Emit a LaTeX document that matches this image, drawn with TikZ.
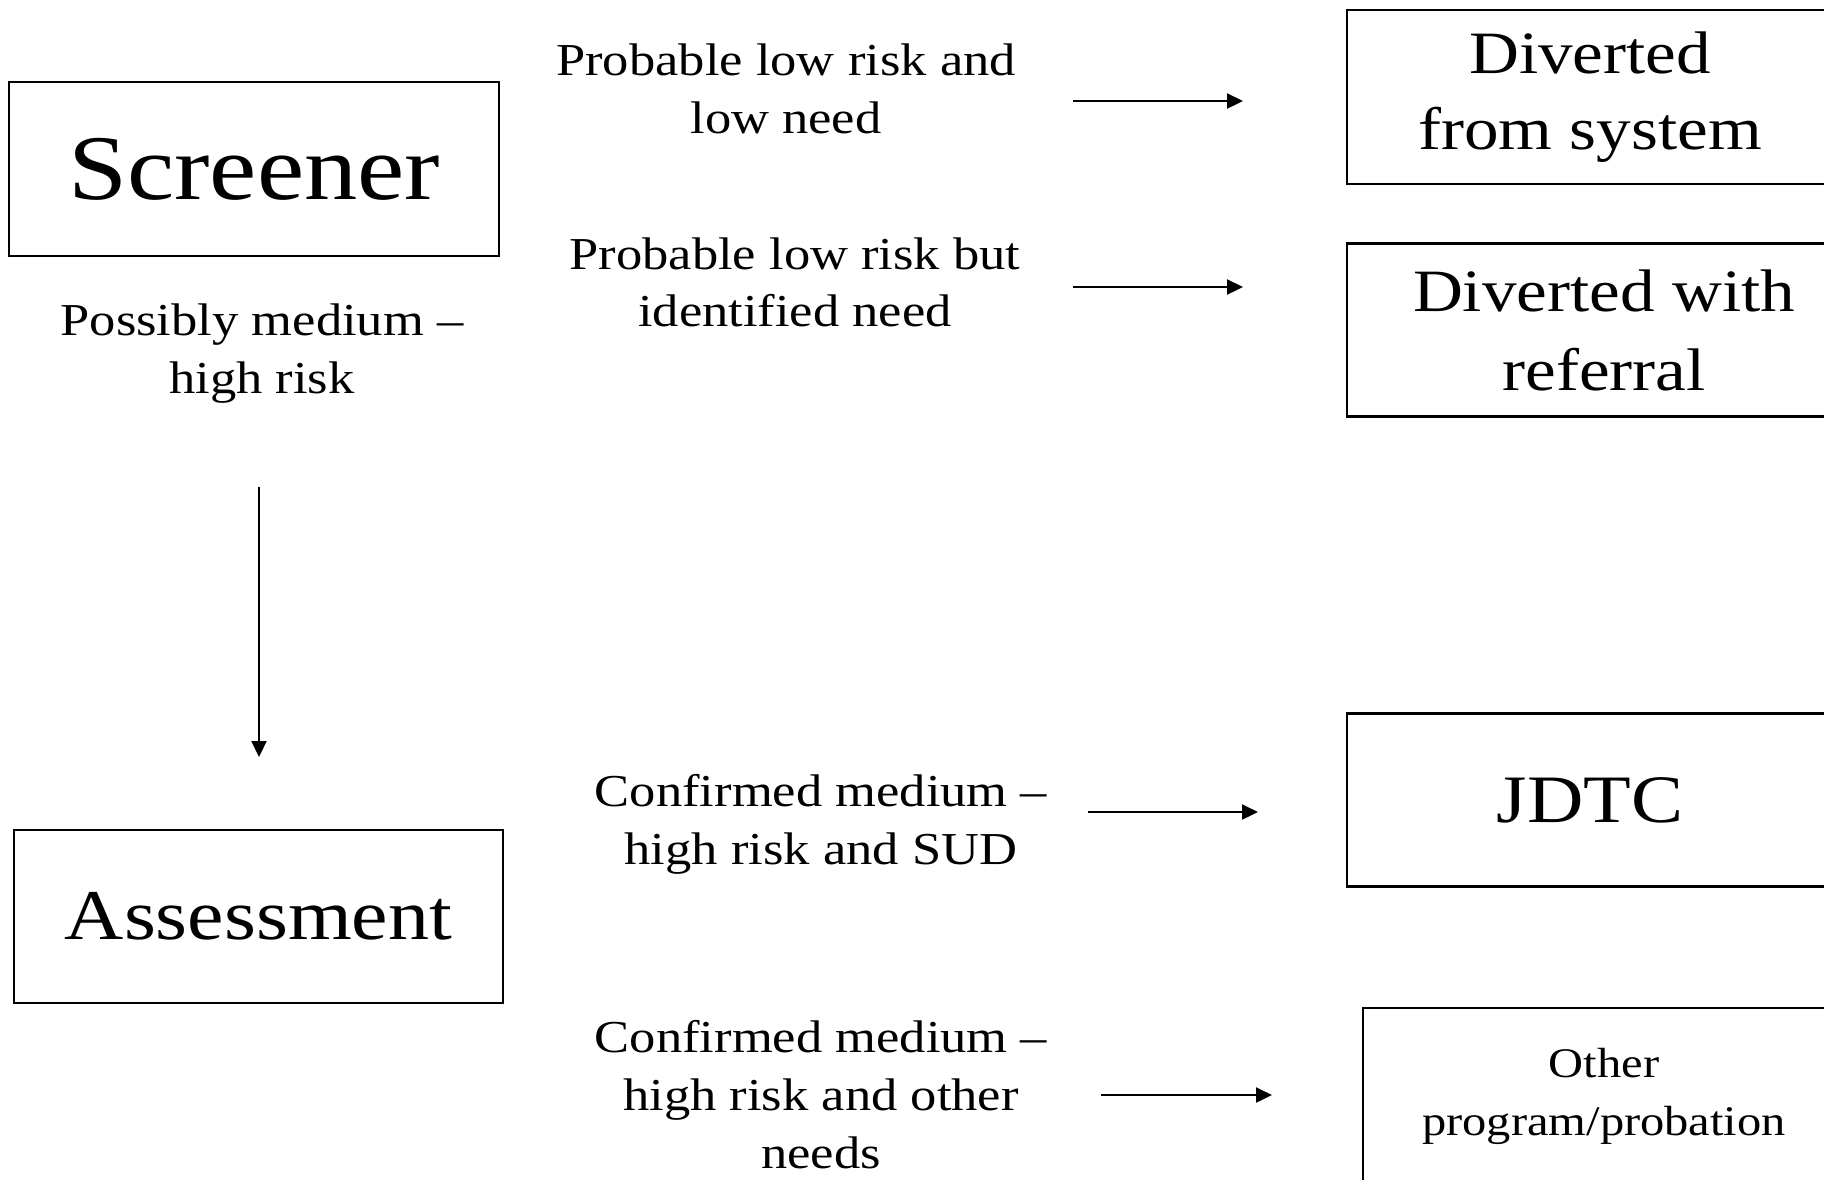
\documentclass[tikz,border=0pt]{standalone}
\usepackage{fontspec}
\setmainfont[FakeStretch=1.15]{Liberation Serif}
\usetikzlibrary{arrows.meta}

\tikzset{
  box/.style={draw, rectangle, align=center, inner sep=0pt},
  lbl/.style={align=center, font=\fontsize{13}{16.4}\selectfont},
}

\begin{document}
\begin{tikzpicture}[x=0.1mm, y=-0.1mm, semithick, ->, >={Triangle[length=1.6mm,width=1.5mm]}]
  \useasboundingbox (0,0) rectangle (1824,1179);

  % left column
  \node [box, minimum width=49mm, minimum height=17.4mm, font=\fontsize{26.3}{30}\selectfont] (screener) at (254,169) {Screener};
  \node [lbl] (possmed) at (262,353.5) {Possibly medium --\\high risk};
  \node [box, minimum width=48.9mm, minimum height=17.3mm, font=\fontsize{20.3}{24}\selectfont] (assess) at (258.5,916.5) {Assessment};

  % middle labels
  \node [lbl] (lowlow) at (786,89) {Probable low risk and\\low need};
  \node [lbl] (lowneed) at (795,282.5) {Probable low risk but\\identified need};
  \node [lbl] (sud) at (821,824.5) {Confirmed medium --\\high risk and SUD};
  \node [lbl] (othneed) at (821,1094.5) {Confirmed medium --\\high risk and other\\needs};

  % right column
  \node [box, minimum width=48.6mm, minimum height=17.4mm, font=\fontsize{17.1}{21.8}\selectfont] (divsys) at (1590,97) {Diverted\\from system};
  \node [box, minimum width=51.4mm, minimum height=17.3mm, font=\fontsize{17.1}{22.5}\selectfont] (divref) at (1604,330) {Diverted with\\referral};
  \node [box, minimum width=48.6mm, minimum height=17.3mm, font=\fontsize{19.3}{23}\selectfont] (jdtc) at (1590,800) {JDTC};
  \node [box, anchor=north, inner ysep=4mm, text depth=4.2mm, minimum width=48.2mm, font=\fontsize{12}{16.5}\selectfont] (othprog) at (1604,1007) {Other\\program/probation};

  % arrows
  \coordinate (s1) at (1073,101);  \coordinate (e1) at (1243,101);
  \coordinate (s2) at (1073,287);  \coordinate (e2) at (1243,287);
  \coordinate (s3) at (1088,812);  \coordinate (e3) at (1258,812);
  \coordinate (s4) at (1101,1095); \coordinate (e4) at (1272,1095);
  \coordinate (s5) at (259,487);   \coordinate (e5) at (259,757);
  \foreach \i in {1,...,5}
    \draw (s\i) -- (e\i);
\end{tikzpicture}
\end{document}
